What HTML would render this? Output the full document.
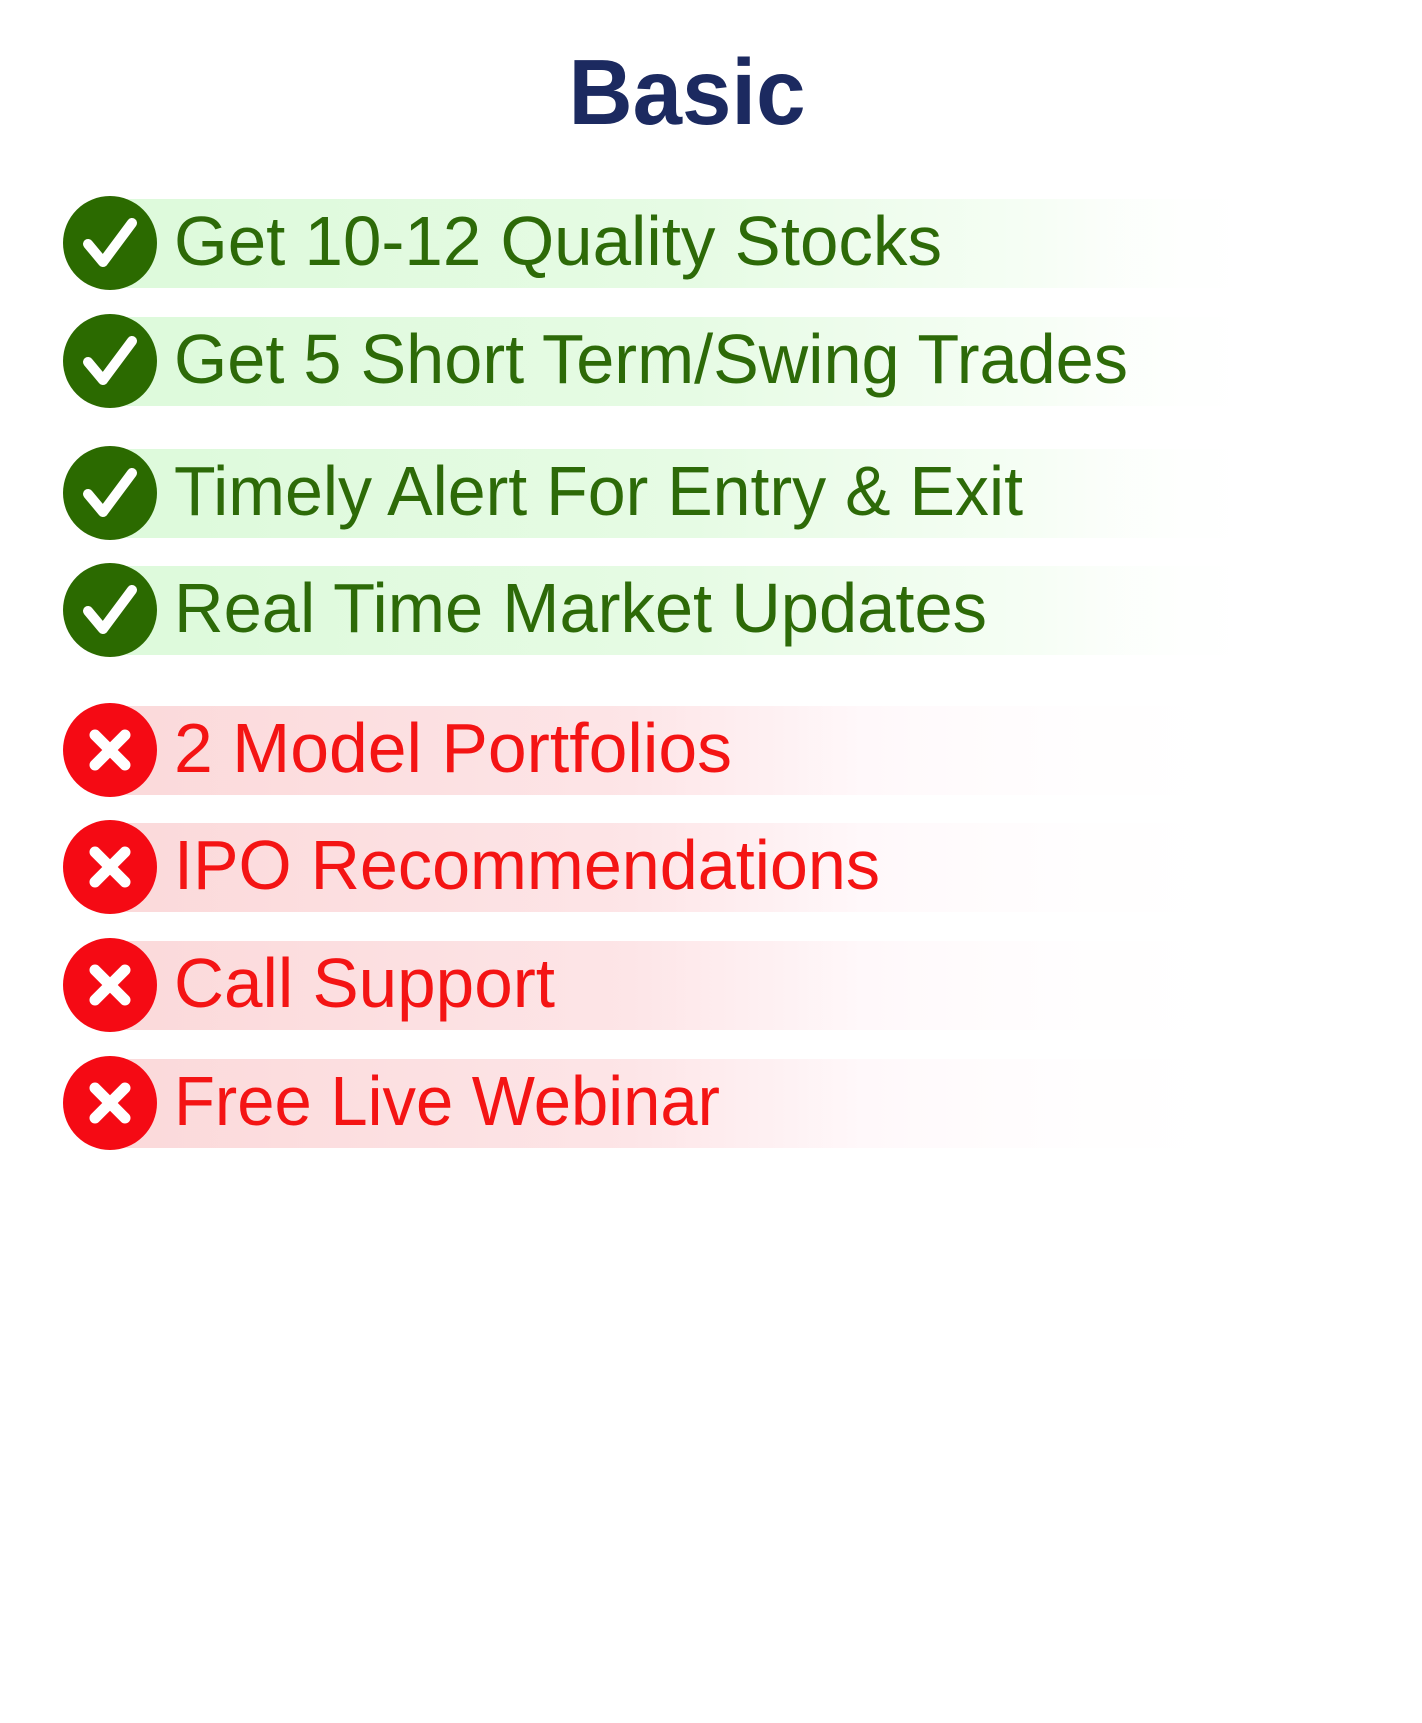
<!DOCTYPE html>
<html><head><meta charset="utf-8"><style>
html,body{margin:0;padding:0;background:#fff;width:1422px;height:1723px;overflow:hidden}
svg text{font-family:"Liberation Sans",Arial,sans-serif}
</style></head>
<body>
<svg width="1422" height="1723" viewBox="0 0 1422 1723">
<defs>
<linearGradient id="gG" x1="0" x2="1" y1="0" y2="0">
<stop offset="0" stop-color="#ddfadb"/><stop offset="0.5" stop-color="#e6fbe4"/><stop offset="0.8" stop-color="#f6fef5"/><stop offset="1" stop-color="#ffffff" stop-opacity="0"/>
</linearGradient>
<linearGradient id="gR" x1="0" x2="1" y1="0" y2="0">
<stop offset="0" stop-color="#fbd9da"/><stop offset="0.45" stop-color="#fde5e7"/><stop offset="0.65" stop-color="#fff8fa"/><stop offset="1" stop-color="#ffffff" stop-opacity="0"/>
</linearGradient>
</defs>
<text x="687" y="124" text-anchor="middle" font-size="93" font-weight="bold" fill="#1c2a60" textLength="237" lengthAdjust="spacingAndGlyphs">Basic</text>
<g id="rows"></g>
</svg>
<script>
const labels=["Get 10-12 Quality Stocks","Get 5 Short Term/Swing Trades","Timely Alert For Entry & Exit","Real Time Market Updates","2 Model Portfolios","IPO Recommendations","Call Support","Free Live Webinar"];
const included=[true,true,true,true,false,false,false,false];
const centers=[243,361,493,610,750,867,985,1103];
const widths=[768,954,849,813,558,706,381,546];
const NS="http://www.w3.org/2000/svg";
const g=document.getElementById('rows');
function mk(t,a){const e=document.createElementNS(NS,t);for(const k in a)e.setAttribute(k,a[k]);return e;}
labels.forEach((lab,i)=>{
  const cy=centers[i],ok=included[i];
  const row=mk('g',{});
  
  
  const bar=mk('rect',{x:110,y:cy-44,width:1160,height:89,fill:ok?'url(#gG)':'url(#gR)'});
  
  
  row.appendChild(bar);
  const c=mk('circle',{cx:110,cy:cy,r:47,fill:ok?'#2b6a00':'#f50a14'});
  
  
  row.appendChild(c);
  const p=ok?mk('path',{d:`M${88} ${cy+1} L${103} ${cy+19} L${132} ${cy-20}`,stroke:'#fff','stroke-width':10,fill:'none','stroke-linecap':'round','stroke-linejoin':'round'})
            :mk('path',{d:`M${95} ${cy-15} L${125} ${cy+15} M${125} ${cy-15} L${95} ${cy+15}`,stroke:'#fff','stroke-width':11,fill:'none','stroke-linecap':'round'});
  row.appendChild(p);
  const t=mk('text',{x:174,y:cy+22,'font-size':70,fill:ok?'#2d6a08':'#f41414',textLength:widths[i],lengthAdjust:'spacingAndGlyphs'});
  
  
  t.textContent=lab;
  row.appendChild(t);
  g.appendChild(row);
});
</script>
</body></html>
